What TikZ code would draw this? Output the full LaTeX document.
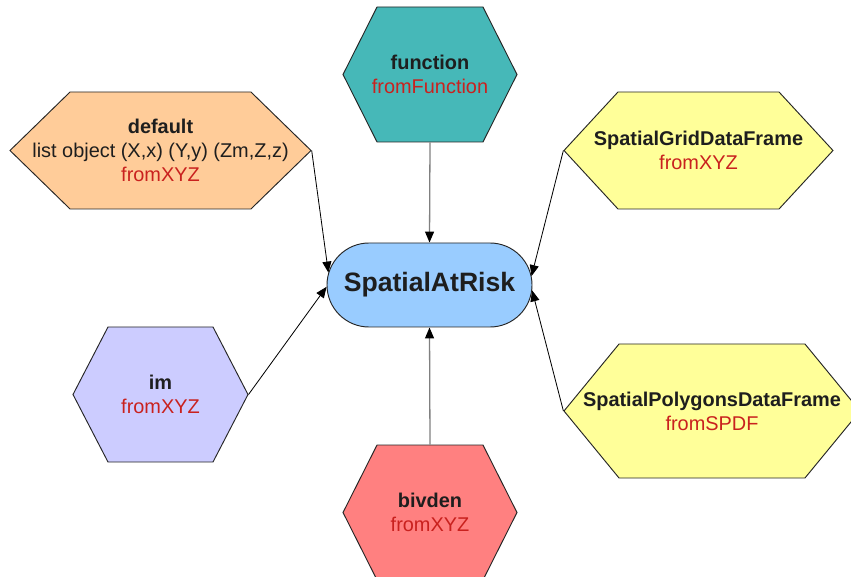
\documentclass[tikz,border=0pt]{standalone}
\usepackage{fontspec}
\setmainfont{Liberation Sans}
\usetikzlibrary{shapes.symbols,shapes.misc,arrows.meta}
\definecolor{ink}{HTML}{1E1E1E}
\definecolor{codered}{HTML}{C9211E}
\definecolor{peach}{HTML}{FFCC99}
\definecolor{fnteal}{HTML}{46B8B8}
\definecolor{skyblue}{HTML}{99CCFF}
\definecolor{paleyellow}{HTML}{FFFF99}
\definecolor{lavender}{HTML}{CCCCFF}
\definecolor{salmon}{HTML}{FF8080}
\def\hexnode{\node[signal,signal to=west and east,draw=black!85,line width=0.8pt,inner xsep=-25mm,align=center,text=ink,font=\fontsize{17}{20.5}\selectfont]}

\begin{document}
\begin{tikzpicture}[x=0.3mm,y=-0.3mm,
  conn/.style={draw=black,line width=0.7pt,-{Triangle[length=3.3mm,width=2.7mm]}},
  vconn/.style={draw=black!50,line width=1.1pt,-{Triangle[length=3.3mm,width=2.7mm,black]}}]
\useasboundingbox (0,0) rectangle (851,577);
\clip (0,0) rectangle (851,577);
\node[rounded rectangle,draw=black!85,line width=0.8pt,fill=skyblue,minimum width=61.5mm,minimum height=25.2mm,inner sep=0pt,text=ink,font=\fontsize{22.7}{26}\selectfont\bfseries] (risk) at (429.5,285) {SpatialAtRisk};
\hexnode (dflt) at (160.5,150.5) [fill=peach,minimum width=90.3mm,minimum height=35.1mm,signal pointer angle=88.5] {\textbf{default}\\list object (X,x) (Y,y) (Zm,Z,z)\\\textcolor{codered}{fromXYZ}};
\hexnode (fn) at (430,74.5) [fill=fnteal,minimum width=52.2mm,minimum height=40.5mm,signal pointer angle=126.5] {\textbf{function}\\\textcolor{codered}{fromFunction}};
\hexnode (sgdf) at (698.5,150.5) [fill=paleyellow,minimum width=80.7mm,minimum height=35.1mm,signal pointer angle=94.6] {\textbf{SpatialGridDataFrame}\\\textcolor{codered}{fromXYZ}};
\hexnode (spdf) at (712,411) [fill=paleyellow,minimum width=88.8mm,minimum height=40.2mm,signal pointer angle=101.2] {\textbf{SpatialPolygonsDataFrame}\\\textcolor{codered}{fromSPDF}};
\hexnode (im) at (160.5,394.5) [fill=lavender,minimum width=52.5mm,minimum height=40.5mm,signal pointer angle=125.2] {\textbf{im}\\\textcolor{codered}{fromXYZ}};
\hexnode (bivden) at (430,512.5) [fill=salmon,minimum width=52.2mm,minimum height=40.5mm,signal pointer angle=126.5] {\textbf{bivden}\\\textcolor{codered}{fromXYZ}};
\draw[conn] (dflt.east) -- (risk.173);
\draw[conn] (im.east) -- (risk.181);
\draw[conn] (sgdf.west) -- (risk.5);
\draw[conn] (spdf.west) -- (risk.357);
\draw[vconn] (fn.south) -- (risk.north);
\draw[vconn] (bivden.north) -- (risk.south);
\end{tikzpicture}
\end{document}
